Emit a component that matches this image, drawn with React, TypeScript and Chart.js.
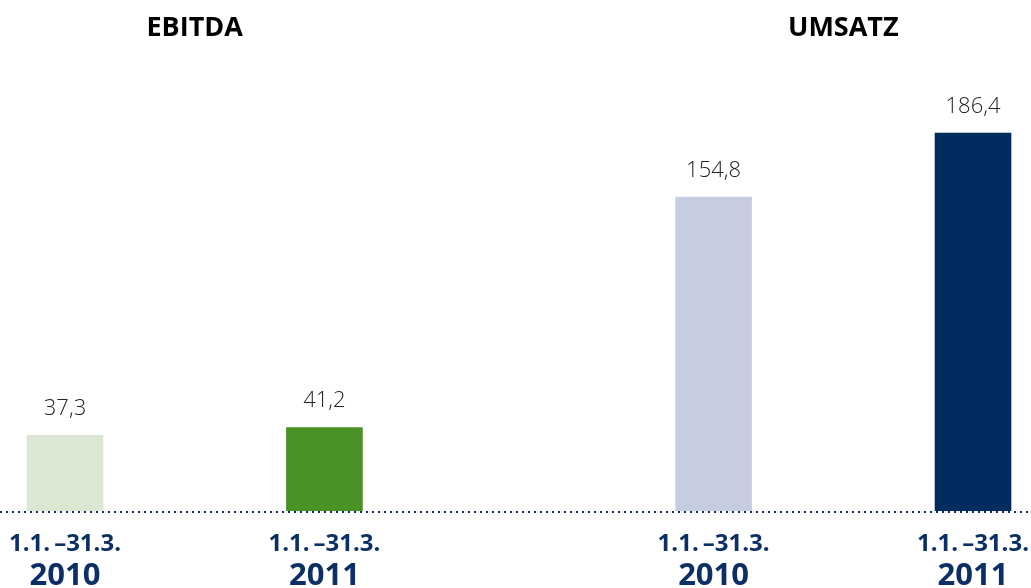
import React, { useEffect, useRef } from "react";
import { Chart, registerables } from "chart.js";

Chart.register(...registerables);

// ---- data ----
const groupTitles = ["EBITDA", "UMSATZ"];
const periodLabels = ["1.1.\u2009–31.3.", "1.1.\u2009–31.3.", "1.1.\u2009–31.3.", "1.1.\u2009–31.3."];
const yearLabels = ["2010", "2011", "2010", "2011"];
const values = [37.3, 41.2, 154.8, 186.4];
const valueLabels = ["37,3", "41,2", "154,8", "186,4"];

// ---- layout / style ----
const SLOT = [0, 2, 5, 7];
const GROUP_OF = [0, 0, 1, 1];
const barColors = ["#dbe6d3", "#4a9126", "#c7cde0", "#002c5f"];
const NAVY = "#0c2f66";
const FONT = "'Open Sans', 'Noto Sans', sans-serif";

const overlay = {
  id: "overlay",
  afterDatasetsDraw(chart: any) {
    const { ctx, scales } = chart;
    const xs = scales.x;
    const ys = scales.y;
    ctx.save();
    // dotted baseline
    ctx.strokeStyle = NAVY;
    ctx.lineWidth = 2;
    ctx.setLineDash([2, 4]);
    const by = ys.getPixelForValue(0) + 1;
    ctx.beginPath();
    ctx.moveTo(0, by);
    ctx.lineTo(chart.width, by);
    ctx.stroke();
    ctx.setLineDash([]);

    ctx.textAlign = "center";
    ctx.textBaseline = "alphabetic";
    // value labels
    ctx.fillStyle = "#222222";
    ctx.font = `300 22px ${FONT}`;
    values.forEach((v, i) => {
      const x = xs.getPixelForValue(SLOT[i]);
      const y = ys.getPixelForValue(v);
      ctx.fillText(valueLabels[i], x, y - 20);
    });
    // category labels
    ctx.fillStyle = NAVY;
    values.forEach((_, i) => {
      const x = xs.getPixelForValue(SLOT[i]);
      ctx.font = `bold 24px ${FONT}`;
      ctx.fillText(periodLabels[i], x, 551);
      ctx.font = `bold 31px ${FONT}`;
      ctx.fillText(yearLabels[i], x, 585);
    });
    // group titles
    ctx.fillStyle = "#000000";
    ctx.font = `bold 27px ${FONT}`;
    groupTitles.forEach((t, g) => {
      const idx = GROUP_OF.map((gg, i) => (gg === g ? i : -1)).filter((i) => i >= 0);
      const xsum = idx.reduce((s, i) => s + xs.getPixelForValue(SLOT[i]), 0);
      ctx.fillText(t, xsum / idx.length, 36);
    });
    ctx.restore();
  },
};

export default function App() {
  const ref = useRef<HTMLCanvasElement>(null);
  useEffect(() => {
    if (!ref.current) return;
    const chart = new Chart(ref.current, {
      type: "bar",
      data: {
        datasets: [
          {
            data: values.map((v, i) => ({ x: SLOT[i], y: v })),
            backgroundColor: barColors,
            borderWidth: 0,
            barThickness: 76,
          },
        ],
      },
      options: {
        animation: false,
        responsive: true,
        maintainAspectRatio: false,
        layout: { padding: { top: 0, bottom: 77, left: 0, right: 0 } },
        plugins: { legend: { display: false }, tooltip: { enabled: false }, title: { display: false } },
        scales: {
          x: { type: "linear", display: false, offset: false, min: -0.5011, max: 7.447, grid: { display: false } },
          y: { display: false, min: 0, max: 252, grid: { display: false } },
        },
      },
      plugins: [overlay],
    });
    return () => chart.destroy();
  }, []);
  return (
    <div style={{ position: "absolute", left: 0, top: 0, width: 1031, height: 588, background: "#fff" }}>
      <canvas ref={ref} />
    </div>
  );
}
